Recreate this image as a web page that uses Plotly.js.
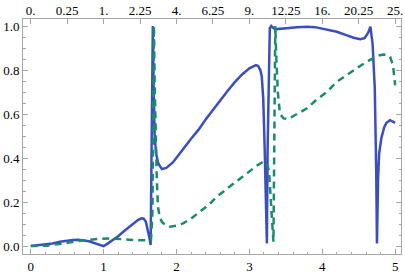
<!DOCTYPE html>
<html>
<head>
<meta charset="utf-8">
<script src="https://cdn.plot.ly/plotly-3.0.1.min.js"></script>
<style>html,body{margin:0;padding:0;background:#fff;}#chart{width:405px;height:273px;}</style>
</head>
<body>
<div id="chart"></div>
<script>
// Solid blue series
const xBlue = [0,0.17,0.30,0.40,0.50,0.58,0.65,0.72,0.80,0.86,0.92,0.97,1.0,1.05,1.13,1.20,1.27,1.34,1.41,1.47,1.52,1.55,1.58,1.61,1.63,1.645,1.655,1.665,1.675,1.685,1.70,1.72,1.75,1.80,1.86,1.95,2.0,2.1,2.2,2.3,2.4,2.5,2.6,2.7,2.8,2.9,3.0,3.05,3.09,3.12,3.15,3.17,3.19,3.21,3.23,3.24,3.25,3.27,3.28,3.30,3.33,3.37,3.45,3.51,3.65,3.79,3.90,3.97,4.06,4.20,4.32,4.43,4.52,4.58,4.63,4.66,4.69,4.72,4.74,4.75,4.765,4.78,4.81,4.85,4.88,4.93,5.0];
const yBlue = [0,0.005,0.012,0.02,0.025,0.028,0.029,0.027,0.022,0.015,0.008,0.002,0.0,0.01,0.027,0.045,0.065,0.085,0.103,0.118,0.126,0.125,0.11,0.07,0.035,0.005,0.3,0.8,1.0,0.75,0.5,0.42,0.375,0.35,0.355,0.38,0.40,0.445,0.488,0.528,0.575,0.62,0.665,0.705,0.745,0.78,0.808,0.818,0.822,0.818,0.80,0.77,0.67,0.44,0.14,0.012,0.44,0.9,0.99,1.0,0.99,0.986,0.987,0.99,0.995,0.997,0.995,0.99,0.985,0.974,0.96,0.947,0.94,0.945,0.97,0.997,0.92,0.72,0.345,0.012,0.3,0.42,0.49,0.54,0.56,0.572,0.56];
// Dashed green series
const xGreen = [0,0.22,0.45,0.68,0.91,1.09,1.27,1.45,1.59,1.65,1.67,1.68,1.69,1.70,1.715,1.73,1.745,1.77,1.80,1.85,1.91,2.0,2.09,2.2,2.32,2.45,2.55,2.67,2.78,2.9,3.01,3.1,3.19,3.24,3.27,3.29,3.31,3.33,3.345,3.355,3.37,3.39,3.42,3.47,3.53,3.65,3.79,3.92,4.06,4.20,4.32,4.43,4.55,4.65,4.76,4.84,4.9,4.93,4.97,5.0];
const yGreen = [0,0.002,0.012,0.024,0.032,0.035,0.031,0.026,0.026,0.028,0.15,0.6,1.0,0.75,0.5,0.3,0.18,0.13,0.11,0.095,0.088,0.093,0.103,0.125,0.156,0.19,0.224,0.255,0.285,0.315,0.345,0.365,0.383,0.378,0.34,0.25,0.12,0.02,0.5,1.0,0.85,0.7,0.6,0.58,0.577,0.6,0.626,0.665,0.70,0.747,0.775,0.80,0.825,0.845,0.865,0.871,0.868,0.86,0.823,0.73];
// Tick labels
const bottomTicks = [0,1,2,3,4,5];
const topTickVals = [0,0.5,1,1.5,2,2.5,3,3.5,4,4.5,5];
const topTickText = ['0.','0.25','1.','2.25','4.','6.25','9.','12.25','16.','20.25','25.'];
const leftTicks = [0,0.2,0.4,0.6,0.8,1.0];

const frameCol = '#a6a6a6';
const xr = [-0.106, 5.08];

const data = [
  {x:xBlue, y:yBlue, mode:'lines', line:{color:'#3a4ec0', width:2.5}, hoverinfo:'skip', xaxis:'x', yaxis:'y'},
  {x:xGreen, y:yGreen, mode:'lines', line:{color:'#1c8a6c', width:2.5, dash:'7px,5px'}, hoverinfo:'skip', xaxis:'x2', yaxis:'y'}
];

const layout = {
  width:405, height:273,
  margin:{l:23, r:4, t:19, b:19},
  paper_bgcolor:'#fff', plot_bgcolor:'#fff',
  showlegend:false,
  font:{family:'Liberation Serif', size:13, color:'black'},
  xaxis:{range:xr, tickvals:bottomTicks, ticktext:bottomTicks.map(String), ticks:'inside', ticklen:5, tickcolor:frameCol,
         showline:true, linecolor:frameCol, linewidth:1, mirror:true, showgrid:false, zeroline:false,
         minor:{dtick:0.2, tick0:0, ticks:'inside', ticklen:2.5, tickcolor:frameCol},
         tickfont:{family:'Liberation Serif', size:13, color:'black'}},
  xaxis2:{range:xr, overlaying:'x', side:'top', anchor:'y', tickvals:topTickVals, ticktext:topTickText, ticks:'inside', ticklen:5,
          tickcolor:frameCol, showline:false, showgrid:false, zeroline:false,
          tickfont:{family:'Liberation Serif', size:13, color:'black'}},
  yaxis:{range:[-0.036,1.032], tickvals:leftTicks, ticktext:leftTicks.map(v=>v.toFixed(1)), ticks:'inside', ticklen:5, tickcolor:frameCol,
         showline:true, linecolor:frameCol, linewidth:1, mirror:'ticks', showgrid:false, zeroline:false,
         minor:{dtick:0.05, tick0:0, ticks:'inside', ticklen:2.5, tickcolor:frameCol},
         tickfont:{family:'Liberation Serif', size:13, color:'black'}}
};

Plotly.newPlot('chart', data, layout, {staticPlot:true, displayModeBar:false});
</script>
</body>
</html>
